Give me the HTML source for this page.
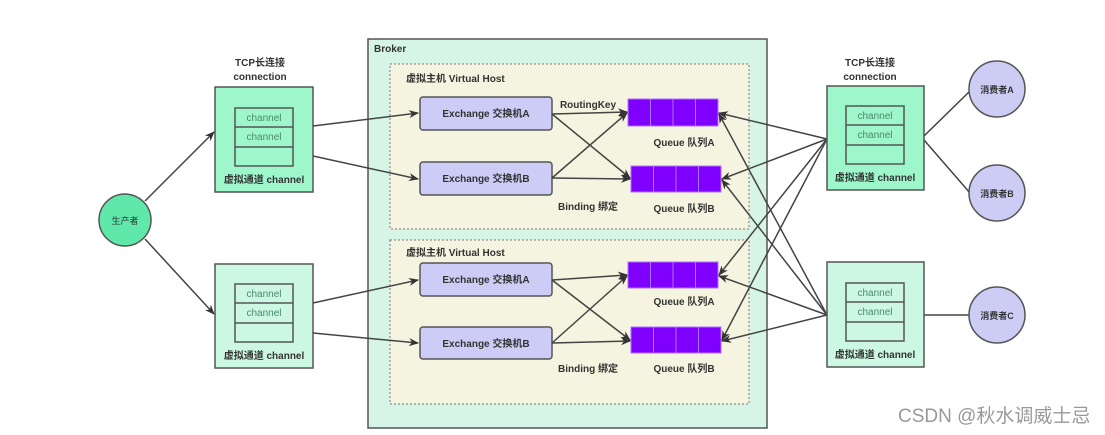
<!DOCTYPE html>
<html><head><meta charset="utf-8"><style>
html,body{margin:0;padding:0;background:#fff;}
svg{display:block;}
text{font-family:"Liberation Sans","Noto Sans CJK SC",sans-serif;fill:#333;}
.b{font-weight:bold;font-size:10px;}
.c{font-size:10px;fill:#4a8a6a;}
</style></head><body>
<svg width="1105" height="435" viewBox="0 0 1105 435" xmlns="http://www.w3.org/2000/svg">
<defs>
<marker id="a" markerWidth="10" markerHeight="8" refX="9" refY="4" orient="auto" markerUnits="userSpaceOnUse">
<path d="M0,0 L10,4 L0,8 L3,4 z" fill="#333"/></marker>
</defs>
<rect x="368" y="39" width="399" height="389" fill="#d6f5e6" stroke="#555" stroke-width="1.5"/>
<text x="374" y="52" class="b">Broker</text>
<rect x="390" y="64" width="359" height="165" fill="#f4f4e0" stroke="#777" stroke-dasharray="2,2"/>
<rect x="390" y="240" width="359" height="164" fill="#f4f4e0" stroke="#777" stroke-dasharray="2,2"/>
<text x="406" y="82" class="b">虚拟主机 Virtual Host</text>
<text x="406" y="256" class="b">虚拟主机 Virtual Host</text>

<g fill="#ccccf7" stroke="#555" stroke-width="1.5">
<rect x="420" y="97" width="132" height="33" rx="3"/>
<rect x="420" y="162" width="132" height="33" rx="3"/>
<rect x="420" y="263" width="132" height="33" rx="3"/>
<rect x="420" y="327" width="132" height="32" rx="3"/>
</g>
<g class="b" text-anchor="middle">
<text x="486" y="117" class="b">Exchange 交换机A</text>
<text x="486" y="182" class="b">Exchange 交换机B</text>
<text x="486" y="283" class="b">Exchange 交换机A</text>
<text x="486" y="347" class="b">Exchange 交换机B</text>
</g>

<g fill="#7f00ff" stroke="#b070ff" stroke-width="1">
<rect x="628" y="99" width="22.5" height="27"/><rect x="650.5" y="99" width="22.5" height="27"/><rect x="673" y="99" width="22.5" height="27"/><rect x="695.5" y="99" width="22.5" height="27"/>
<rect x="631" y="166" width="22.5" height="26"/><rect x="653.5" y="166" width="22.5" height="26"/><rect x="676" y="166" width="22.5" height="26"/><rect x="698.5" y="166" width="22.5" height="26"/>
<rect x="628" y="262" width="22.5" height="26"/><rect x="650.5" y="262" width="22.5" height="26"/><rect x="673" y="262" width="22.5" height="26"/><rect x="695.5" y="262" width="22.5" height="26"/>
<rect x="631" y="327" width="22.5" height="26"/><rect x="653.5" y="327" width="22.5" height="26"/><rect x="676" y="327" width="22.5" height="26"/><rect x="698.5" y="327" width="22.5" height="26"/>
</g>
<g text-anchor="middle">
<text x="684" y="146" class="b">Queue 队列A</text>
<text x="684" y="212" class="b">Queue 队列B</text>
<text x="684" y="305" class="b">Queue 队列A</text>
<text x="684" y="372" class="b">Queue 队列B</text>
<text x="588" y="108" class="b">RoutingKey</text>
<text x="588" y="210" class="b">Binding 绑定</text>
<text x="588" y="372" class="b">Binding 绑定</text>
</g>

<g stroke="#444" stroke-width="1.5" marker-end="url(#a)">
<line x1="552" y1="114" x2="627" y2="112"/>
<line x1="552" y1="114" x2="630" y2="178"/>
<line x1="552" y1="178" x2="627" y2="113"/>
<line x1="552" y1="178" x2="630" y2="179"/>
<line x1="552" y1="280" x2="627" y2="275"/>
<line x1="552" y1="280" x2="630" y2="340"/>
<line x1="552" y1="343" x2="627" y2="276"/>
<line x1="552" y1="343" x2="630" y2="341"/>
<line x1="313" y1="126" x2="418" y2="113"/>
<line x1="313" y1="156" x2="418" y2="179"/>
<line x1="313" y1="303" x2="418" y2="280"/>
<line x1="313" y1="333" x2="418" y2="343"/>
<line x1="145" y1="201" x2="214" y2="132"/>
<line x1="145" y1="239" x2="214" y2="314"/>
<line x1="827" y1="139" x2="719" y2="113"/>
<line x1="827" y1="139" x2="722" y2="179"/>
<line x1="827" y1="139" x2="719" y2="275"/>
<line x1="827" y1="139" x2="722" y2="340"/>
<line x1="827" y1="315" x2="719" y2="114"/>
<line x1="827" y1="315" x2="722" y2="180"/>
<line x1="827" y1="315" x2="719" y2="276"/>
<line x1="827" y1="315" x2="722" y2="341"/>
</g>
<g stroke="#444" stroke-width="1.5">
<line x1="924" y1="136" x2="970" y2="91"/>
<line x1="924" y1="140" x2="970" y2="193"/>
<line x1="924" y1="315" x2="969" y2="315"/>
</g>

<g stroke="#555" stroke-width="1.5">
<rect x="215" y="87" width="98" height="105" fill="#9ef6cb"/>
<rect x="215" y="264" width="98" height="104" fill="#ccf8e3"/>
<rect x="827" y="86" width="97" height="104" fill="#9ef6cb"/>
<rect x="827" y="262" width="97" height="105" fill="#ccf8e3"/>
<g fill="none">
<rect x="235" y="108" width="58" height="58"/><line x1="235" y1="127" x2="293" y2="127"/><line x1="235" y1="147" x2="293" y2="147"/>
<rect x="235" y="284" width="58" height="58"/><line x1="235" y1="303" x2="293" y2="303"/><line x1="235" y1="323" x2="293" y2="323"/>
<rect x="846" y="106" width="58" height="58"/><line x1="846" y1="125" x2="904" y2="125"/><line x1="846" y1="145" x2="904" y2="145"/>
<rect x="846" y="283" width="58" height="58"/><line x1="846" y1="302" x2="904" y2="302"/><line x1="846" y1="322" x2="904" y2="322"/>
</g>
</g>
<g text-anchor="middle">
<text x="264" y="121" class="c">channel</text><text x="264" y="140" class="c">channel</text>
<text x="264" y="297" class="c">channel</text><text x="264" y="316" class="c">channel</text>
<text x="875" y="119" class="c">channel</text><text x="875" y="138" class="c">channel</text>
<text x="875" y="296" class="c">channel</text><text x="875" y="315" class="c">channel</text>
<text x="264" y="183" class="b">虚拟通道 channel</text>
<text x="264" y="359" class="b">虚拟通道 channel</text>
<text x="875" y="181" class="b">虚拟通道 channel</text>
<text x="875" y="358" class="b">虚拟通道 channel</text>
<text x="260" y="66" class="b">TCP长连接</text>
<text x="260" y="80" class="b">connection</text>
<text x="870" y="66" class="b">TCP长连接</text>
<text x="870" y="80" class="b">connection</text>
</g>

<circle cx="125" cy="220" r="26" fill="#5fe8a9" stroke="#555" stroke-width="1.5"/>
<text x="125" y="224" text-anchor="middle" style="font-size:9px">生产者</text>
<g fill="#ccccf5" stroke="#555" stroke-width="1.5">
<circle cx="997" cy="89" r="28"/><circle cx="997" cy="193" r="28"/><circle cx="997" cy="315" r="28"/>
</g>
<g text-anchor="middle">
<text x="997" y="93" class="b" style="font-size:9px">消费者A</text>
<text x="997" y="197" class="b" style="font-size:9px">消费者B</text>
<text x="997" y="319" class="b" style="font-size:9px">消费者C</text>
</g>
<text x="898" y="422" style="font-size:19px;fill:#999">CSDN @秋水调威士忌</text>
</svg>
</body></html>
